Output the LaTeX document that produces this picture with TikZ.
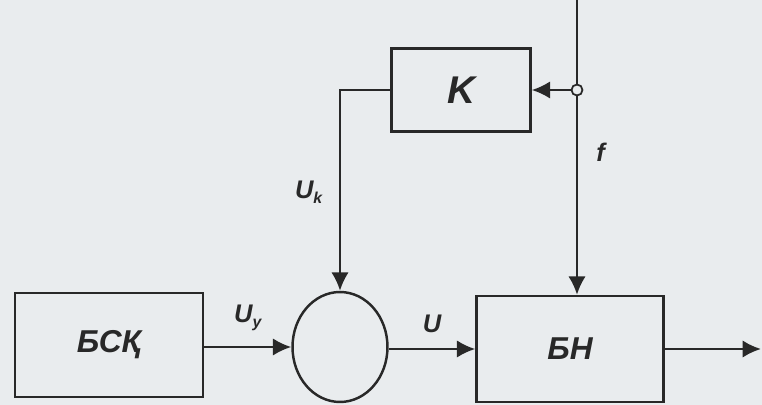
\documentclass[tikz,border=0pt]{standalone}
\usepackage{fontspec}
\setmainfont{Liberation Sans}
\usetikzlibrary{arrows.meta, positioning, shapes.geometric}
\definecolor{paper}{RGB}{233,236,238}
\definecolor{ink}{RGB}{40,40,40}
\newcommand{\lowidx}[1]{\raisebox{-0.4ex}{\fontsize{9}{9}\selectfont #1}}
\tikzset{
  box/.style={rectangle,draw=ink,line width=1.4pt,text=ink,font=\bfseries\itshape\fontsize{18}{18}\selectfont},
  summer/.style={ellipse,draw=ink,line width=1.4pt,minimum width=1.9cm,minimum height=2.2cm},
  tapdot/.style={circle,draw=ink,line width=1pt,fill=paper,inner sep=0pt,minimum size=0.22cm},
  line/.style={-{Latex[length=10.5pt,width=10pt]},draw=ink,line width=1.5pt},
  plain/.style={draw=ink,line width=1.5pt},
  lbl/.style={text=ink,font=\bfseries\itshape\fontsize{14.5}{14.5}\selectfont}
}

\begin{document}
\begin{tikzpicture}[x=0.02cm,y=-0.02cm]
\fill[paper] (0,0) rectangle (762,405);
\useasboundingbox (0,0) rectangle (762,405);

\node[box, minimum width=2.78cm, minimum height=1.66cm, font=\bfseries\itshape\fontsize{22}{22}\selectfont] (k) at (461,90) {K};
\node[box, minimum width=3.76cm, minimum height=2.08cm] (bsk) at (109,345) {БСҚ};
\node[summer] (sum) at (340,347) {};
\node[box, minimum width=3.74cm, minimum height=2.12cm] (bn) at (570,349) {БН};
\node[tapdot] (tap) at (577,90) {};
\coordinate (ftop) at (577,0);
\coordinate (out) at (761,349);

\draw[plain] (ftop) -- (tap);
\draw[line] (tap) -- (bn.north -| tap) node[lbl, pos=0.28, right=7pt] {f};
\draw[line] (tap) -- (k.east);
\draw[line] (k.west) -| (sum.north) node[lbl, pos=0.755, left=6pt] {U\lowidx{k}};
\draw[line] (bsk.east |- sum.west) -- (sum.west) node[lbl, midway, above=5pt] {U\lowidx{у}};
\draw[line] (sum.east |- bn.west) -- (bn.west) node[lbl, midway, above=5pt] {U};
\draw[line] (bn.east) -- (out);
\end{tikzpicture}
\end{document}
